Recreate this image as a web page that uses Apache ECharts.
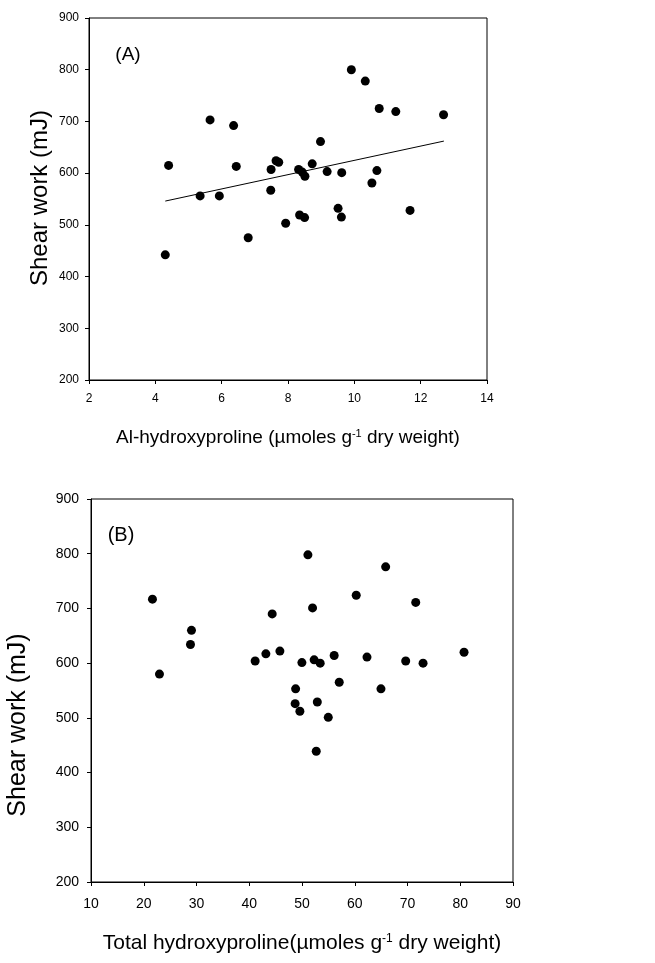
<!DOCTYPE html>
<html>
<head>
<meta charset="utf-8">
<script src="https://cdn.jsdelivr.net/npm/echarts@6.0.0/dist/echarts.min.js"></script>
<style>
html, body { margin: 0; padding: 0; background: #fff; }
#main { width: 655px; height: 963px; }
</style>
</head>
<body>
<div id="main"></div>
<script>
// panel A: Al-hydroxyproline vs shear work
var aX = [4.40, 5.65, 6.36, 6.44, 5.35, 5.93, 7.49, 7.64, 7.72, 7.48, 8.32, 8.43, 8.51, 8.73, 8.98, 9.18,
    9.62, 9.91, 10.33, 10.75, 11.25, 12.69, 10.68, 10.53, 4.30, 6.80, 7.93, 8.35, 8.50, 9.51, 9.61, 11.68];
var aY = [615, 703, 692, 613, 556, 556, 607, 624, 621, 567, 607, 602, 594, 618, 661, 603,
    601, 800, 778, 725, 719, 713, 605, 581, 442, 475, 503, 519, 514, 532, 515, 528];
// regression line end points
var fitX = [4.3, 12.7];
var fitY = [546, 662];

// panel B: total hydroxyproline vs shear work
var bX = [21.65, 22.98, 29.05, 28.86, 41.12, 43.15, 44.35, 45.81, 51.12, 52.0, 49.98, 52.3, 53.45, 56.1, 57.06,
    48.79, 60.28, 65.86, 62.32, 64.97, 69.66, 71.56, 72.95, 80.72, 48.7, 49.6, 52.9, 54.98, 52.7];
var bY = [717, 580, 660, 634, 604, 617, 690, 622, 798, 701, 601, 606, 600, 614, 565,
    553, 724, 776, 611, 553, 604, 711, 600, 620, 526, 512, 529, 501, 439];

var FONT = 'Liberation Sans, Arial, sans-serif';

function pairs(xs, ys) {
    var out = [];
    for (var i = 0; i < xs.length; i++) out.push([xs[i], ys[i]]);
    return out;
}

function axisCommon(fontSize, margin) {
    return {
        axisLine: { show: true, lineStyle: { color: '#000', width: 1 } },
        axisTick: { show: true, inside: false, length: 4, lineStyle: { color: '#000' } },
        axisLabel: { color: '#000', fontFamily: FONT, fontSize: fontSize, margin: margin },
        splitLine: { show: false }
    };
}

var myChart = echarts.init(document.getElementById('main'));

var xA = axisCommon(12, 13);
xA.gridIndex = 0; xA.type = 'value'; xA.min = 2; xA.max = 14; xA.interval = 2;
xA.name = '{t|Al-hydroxyproline (µmoles g}{s|-1}{t| dry weight)}';
xA.nameLocation = 'middle'; xA.nameGap = 48;
xA.nameTextStyle = {
    rich: {
        t: { fontFamily: FONT, fontSize: 19, color: '#000' },
        s: { fontFamily: FONT, fontSize: 11, color: '#000', verticalAlign: 'top', padding: [0, 0, 8, 0] }
    }
};

var yA = axisCommon(12, 10);
yA.gridIndex = 0; yA.type = 'value'; yA.min = 200; yA.max = 900; yA.interval = 100;

var xB = axisCommon(14, 15);
xB.gridIndex = 1; xB.type = 'value'; xB.min = 10; xB.max = 90; xB.interval = 10;
xB.name = '{t|Total hydroxyproline(µmoles g}{s|-1}{t| dry weight)}';
xB.nameLocation = 'middle'; xB.nameGap = 51;
xB.nameTextStyle = {
    rich: {
        t: { fontFamily: FONT, fontSize: 21, color: '#000' },
        s: { fontFamily: FONT, fontSize: 12, color: '#000', verticalAlign: 'top', padding: [0, 0, 9, 0] }
    }
};

var yB = axisCommon(14, 12);
yB.gridIndex = 1; yB.type = 'value'; yB.min = 200; yB.max = 900; yB.interval = 100;

var option = {
    backgroundColor: '#fff',
    animation: false,
    grid: [
        { left: 89, top: 18, width: 398, height: 362, show: true, borderColor: '#000', borderWidth: 1 },
        { left: 91, top: 499, width: 422, height: 383, show: true, borderColor: '#000', borderWidth: 1 }
    ],
    xAxis: [xA, xB],
    yAxis: [yA, yB],
    graphic: [
        {
            type: 'text', x: 128, y: 55,
            style: { text: '(A)', fontFamily: FONT, fontSize: 19, fill: '#000', textAlign: 'center', textVerticalAlign: 'middle' }
        },
        {
            type: 'text', x: 121, y: 535,
            style: { text: '(B)', fontFamily: FONT, fontSize: 20, fill: '#000', textAlign: 'center', textVerticalAlign: 'middle' }
        },
        {
            type: 'text', x: 40, y: 198, rotation: Math.PI / 2,
            style: { text: 'Shear work (mJ)', fontFamily: FONT, fontSize: 24, fill: '#000', textAlign: 'center', textVerticalAlign: 'middle' }
        },
        {
            type: 'text', x: 18.5, y: 725, rotation: Math.PI / 2,
            style: { text: 'Shear work (mJ)', fontFamily: FONT, fontSize: 25, fill: '#000', textAlign: 'center', textVerticalAlign: 'middle' }
        }
    ],
    series: [
        {
            name: 'A',
            type: 'scatter',
            xAxisIndex: 0, yAxisIndex: 0,
            symbol: 'circle',
            symbolSize: 9,
            itemStyle: { color: '#000', opacity: 1 },
            data: pairs(aX, aY)
        },
        {
            name: 'fit',
            type: 'line',
            xAxisIndex: 0, yAxisIndex: 0,
            showSymbol: false,
            lineStyle: { color: '#000', width: 1 },
            data: pairs(fitX, fitY)
        },
        {
            name: 'B',
            type: 'scatter',
            xAxisIndex: 1, yAxisIndex: 1,
            symbol: 'circle',
            symbolSize: 9,
            itemStyle: { color: '#000', opacity: 1 },
            data: pairs(bX, bY)
        }
    ]
};
myChart.setOption(option);
</script>
</body>
</html>
